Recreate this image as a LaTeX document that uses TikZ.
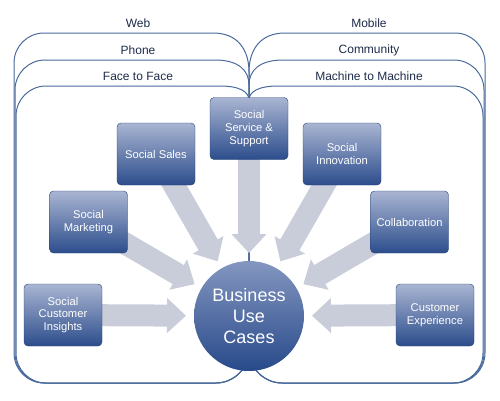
\documentclass[tikz,border=0pt]{standalone}
\usepackage{fontspec}
\setmainfont{Liberation Sans}
\usetikzlibrary{arrows.meta,calc}
\definecolor{tabline}{HTML}{4A6A9C}
\definecolor{tabtext}{HTML}{1E2B4A}
\definecolor{boxtop}{HTML}{A9B5D2}
\definecolor{boxbot}{HTML}{2C4D8C}
\definecolor{ctop}{HTML}{8496C0}
\definecolor{cbot}{HTML}{284A8A}
\definecolor{arrowc}{HTML}{C9CDDA}
\pgfdeclarelayer{tabs}
\pgfdeclarelayer{arrs}
\pgfsetlayers{tabs,arrs,main}
\begin{document}
\begin{tikzpicture}[x=1pt,y=-1pt,
 tab/.style={draw=tabline,line width=1pt},
 tablabel/.style={text=tabtext,font=\fontsize{12}{14}\selectfont},
 box/.style={rectangle,rounded corners=4pt,minimum width=78pt,minimum height=62pt,top color=boxtop,bottom color=boxbot,draw=boxbot!85!black,line width=0.4pt,text=white,align=center,font=\fontsize{11.2}{12.6}\selectfont,inner sep=0pt},
 feed/.style={draw=arrowc,line width=22pt,-{Triangle[width=34pt,length=19pt]}},
 hub/.style={circle,minimum size=110pt,top color=ctop,bottom color=cbot,text=white,align=center,font=\fontsize{18}{21}\selectfont,inner sep=0pt}]
\useasboundingbox (0,0) rectangle (500,400);

% boxes and hub
\node[box] (svc) at (249,128.5) {Social\\Service \&\\Support};
\node[box] (sales) at (156,154) {Social Sales};
\node[box] (innov) at (342,154) {Social\\Innovation};
\node[box] (mkt) at (88.5,222) {Social\\Marketing};
\node[box] (collab) at (409.5,222) {Collaboration};
\node[box] (insight) at (63,315) {Social\\Customer\\Insights};
\node[box] (cx) at (435,315) {Customer\\Experience};
\node[hub] (biz) at (249,316) {Business\\Use\\Cases};

% tab labels
\node[tablabel] (web) at (138,23) {Web};
\node[tablabel] (phone) at (138,50) {Phone};
\node[tablabel] (ftf) at (138,76) {Face to Face};
\node[tablabel] (mobile) at (369,23) {Mobile};
\node[tablabel] (comm) at (369,50) {Community};
\node[tablabel] (m2m) at (369,76) {Machine to Machine};

\begin{pgfonlayer}{tabs}
% left group
\draw[tab] (249,350) .. controls (249,368) and (234,383) .. (216,383) -- (44,383) .. controls (27.4,383) and (14,369.6) .. (14,353) -- (14,63) .. controls (14,46.4) and (27.4,33) .. (44,33) -- (213,33) .. controls (238,33) and (249,50) .. (249,72) -- cycle;
\draw[tab] (249,350) .. controls (249,368) and (234,383) .. (216,383) -- (45,383) .. controls (28.4,383) and (15,369.6) .. (15,353) -- (15,90) .. controls (15,73.4) and (28.4,60) .. (45,60) -- (215,60) .. controls (238,60) and (249,70) .. (249,85) -- cycle;
\draw[tab] (249,350) .. controls (249,368) and (234,383) .. (216,383) -- (46,383) .. controls (29.4,383) and (16,369.6) .. (16,353) -- (16,116) .. controls (16,99.4) and (29.4,86) .. (46,86) -- (220,86) .. controls (240,86) and (249,92) .. (249,100) -- cycle;
% right group
\draw[tab] (249,350) .. controls (249,368) and (264,383) .. (282,383) -- (455,383) .. controls (471.6,383) and (485,369.6) .. (485,353) -- (485,63) .. controls (485,46.4) and (471.6,33) .. (455,33) -- (285,33) .. controls (260,33) and (249,50) .. (249,72) -- cycle;
\draw[tab] (249,350) .. controls (249,368) and (264,383) .. (282,383) -- (454,383) .. controls (470.6,383) and (484,369.6) .. (484,353) -- (484,90) .. controls (484,73.4) and (470.6,60) .. (454,60) -- (283,60) .. controls (260,60) and (249,70) .. (249,85) -- cycle;
\draw[tab] (249,350) .. controls (249,368) and (264,383) .. (282,383) -- (453,383) .. controls (469.6,383) and (483,369.6) .. (483,353) -- (483,116) .. controls (483,99.4) and (469.6,86) .. (453,86) -- (278,86) .. controls (258,86) and (249,92) .. (249,100) -- cycle;
\end{pgfonlayer}

\begin{pgfonlayer}{arrs}
\foreach \b in {svc,sales,innov,mkt,collab,insight,cx}{
  \draw[feed] (\b.center) -- ($(biz.center)!63pt!(\b.center)$);
}
\end{pgfonlayer}
\end{tikzpicture}
\end{document}
